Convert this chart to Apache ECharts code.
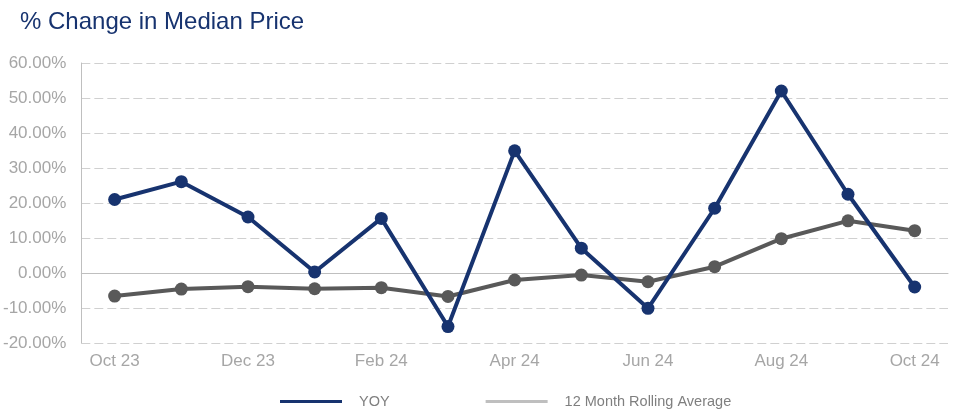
<!DOCTYPE html>
<html>
<head>
<meta charset="utf-8">
<script src="https://cdn.jsdelivr.net/npm/echarts@6/dist/echarts.min.js"></script>
<style>
  html, body { margin: 0; padding: 0; background: #ffffff; }
  #chart { width: 954px; height: 412px; }
</style>
</head>
<body>
<div id="chart"></div>
<script>
const months = ['Oct 23', 'Nov 23', 'Dec 23', 'Jan 24', 'Feb 24', 'Mar 24', 'Apr 24',
    'May 24', 'Jun 24', 'Jul 24', 'Aug 24', 'Sep 24', 'Oct 24'];
const yoy = [21.0, 26.1, 16.0, 0.3, 15.6, -15.3, 34.9, 7.1, -10.1, 18.5, 52.0, 22.5, -4.0];
const rolling = [-6.6, -4.6, -3.9, -4.5, -4.2, -6.7, -2.0, -0.6, -2.5, 1.8, 9.8, 14.9, 12.1];

const NAVY = '#17336f';
const DARK_GREY = '#595959';
const LABEL_GREY = '#a6a6a6';
const FONT = 'Liberation Sans, Arial, sans-serif';

const chart = echarts.init(document.getElementById('chart'), null, { renderer: 'canvas' });

chart.setOption({
    backgroundColor: '#ffffff',
    animation: false,
    title: {
        text: '% Change in Median Price',
        left: 15,
        top: 5,
        textStyle: { color: NAVY, fontSize: 24, fontWeight: 'normal', fontFamily: FONT }
    },
    legend: {
        top: 389,
        left: 275,
        itemGap: 96,
        itemWidth: 62,
        itemHeight: 3,
        icon: 'rect',
        textStyle: { color: '#7f7f7f', fontSize: 14.5, fontFamily: FONT, padding: [0, 0, 0, 12] },
        data: [
            { name: 'YOY', itemStyle: { color: NAVY } },
            { name: '12 Month Rolling Average', itemStyle: { color: '#bfbfbf' } }
        ]
    },
    grid: { left: 80, right: 6, top: 63, bottom: 69 },
    xAxis: {
        type: 'category',
        data: months,
        boundaryGap: true,
        axisLine: { lineStyle: { color: '#bfbfbf', width: 1 } },
        axisTick: { show: false },
        axisLabel: {
            interval: 1,
            color: LABEL_GREY,
            fontSize: 17,
            fontFamily: FONT,
            margin: 10
        }
    },
    yAxis: {
        type: 'value',
        min: -20,
        max: 60,
        interval: 10,
        axisLine: { show: true, lineStyle: { color: '#bfbfbf', width: 1 } },
        axisTick: { show: false },
        splitLine: { lineStyle: { color: '#d0d0d0', type: [9, 4], width: 1 } },
        axisLabel: {
            color: LABEL_GREY,
            fontSize: 17,
            fontFamily: FONT,
            margin: 15,
            formatter: v => v.toFixed(2) + '%'
        }
    },
    series: [
        {
            name: 'YOY',
            type: 'line',
            data: yoy,
            symbol: 'circle',
            symbolSize: 13,
            itemStyle: { color: NAVY },
            lineStyle: { color: NAVY, width: 4 },
            z: 3
        },
        {
            name: '12 Month Rolling Average',
            type: 'line',
            data: rolling,
            symbol: 'circle',
            symbolSize: 13,
            itemStyle: { color: DARK_GREY },
            lineStyle: { color: DARK_GREY, width: 4 },
            z: 2
        }
    ]
});
</script>
</body>
</html>
